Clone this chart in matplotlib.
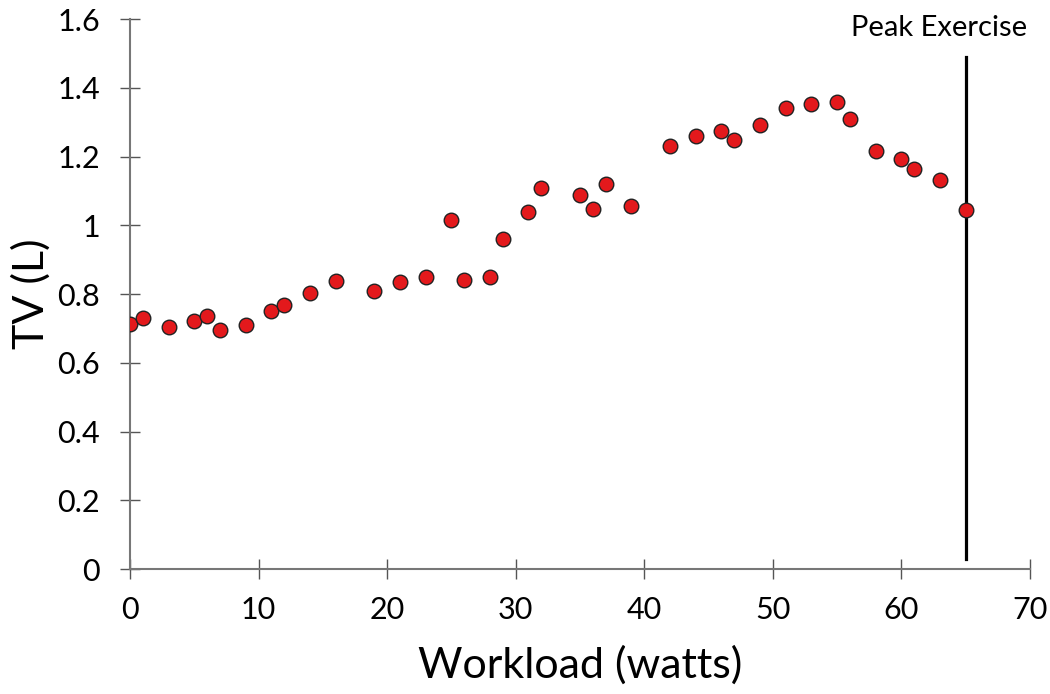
import matplotlib
matplotlib.use("Agg")
import matplotlib.pyplot as plt

workload = [0, 1, 3, 5, 6, 7, 9, 11, 12, 14, 16, 19, 21, 23, 25, 26, 28, 29, 31, 32,
            35, 36, 37, 39, 42, 44, 46, 47, 49, 51, 53, 55, 56, 58, 60, 61, 63, 65]
tv = [0.713, 0.73, 0.705, 0.722, 0.737, 0.696, 0.71, 0.751, 0.769, 0.803, 0.838,
      0.809, 0.835, 0.85, 1.016, 0.841, 0.85, 0.96, 1.039, 1.109, 1.089, 1.048,
      1.121, 1.057, 1.231, 1.261, 1.275, 1.249, 1.293, 1.342, 1.354, 1.36, 1.31,
      1.217, 1.194, 1.164, 1.132, 1.045]
peak_x = 65
peak_label = "Peak Exercise"
xticks = [0, 10, 20, 30, 40, 50, 60, 70]
yticks = [0, 0.2, 0.4, 0.6, 0.8, 1, 1.2, 1.4, 1.6]
ytick_labels = ["0", "0.2", "0.4", "0.6", "0.8", "1", "1.2", "1.4", "1.6"]

plt.rcParams['font.family'] = ['Lato', 'DejaVu Sans']

fig = plt.figure(figsize=(10.5, 6.94), dpi=100)
ax = fig.add_axes([0.1238, 0.18, 0.857, 0.7926])

ax.plot([peak_x, peak_x], [0.03, 1.49], color='black', lw=2.3, zorder=2)
ax.scatter(workload, tv, s=110, color='#E3191C', edgecolor='#222222', linewidth=1.0, zorder=3)
ax.text(peak_x - 2.1, 1.575, peak_label, ha='center', va='center', fontsize=21)

ax.set_xlim(0, 70)
ax.set_ylim(0, 1.6)
ax.set_xticks(xticks)
ax.set_yticks(yticks)
ax.set_yticklabels(ytick_labels)
ax.tick_params(direction='inout', length=15, width=1, color='#555555', labelsize=22)
ax.tick_params(axis='x', pad=12)
ax.tick_params(axis='y', pad=14)
for s in ['top', 'right']:
    ax.spines[s].set_visible(False)
for s in ['left', 'bottom']:
    ax.spines[s].set_color('#777777')
    ax.spines[s].set_linewidth(1.5)
ax.set_xlabel("Workload (watts)", fontsize=31, labelpad=15)
ax.set_ylabel("TV (L)", fontsize=31, labelpad=5)
for lab in ax.get_xticklabels() + ax.get_yticklabels():
    lab.set_clip_on(False)

fig.savefig("out.png", dpi=100)
